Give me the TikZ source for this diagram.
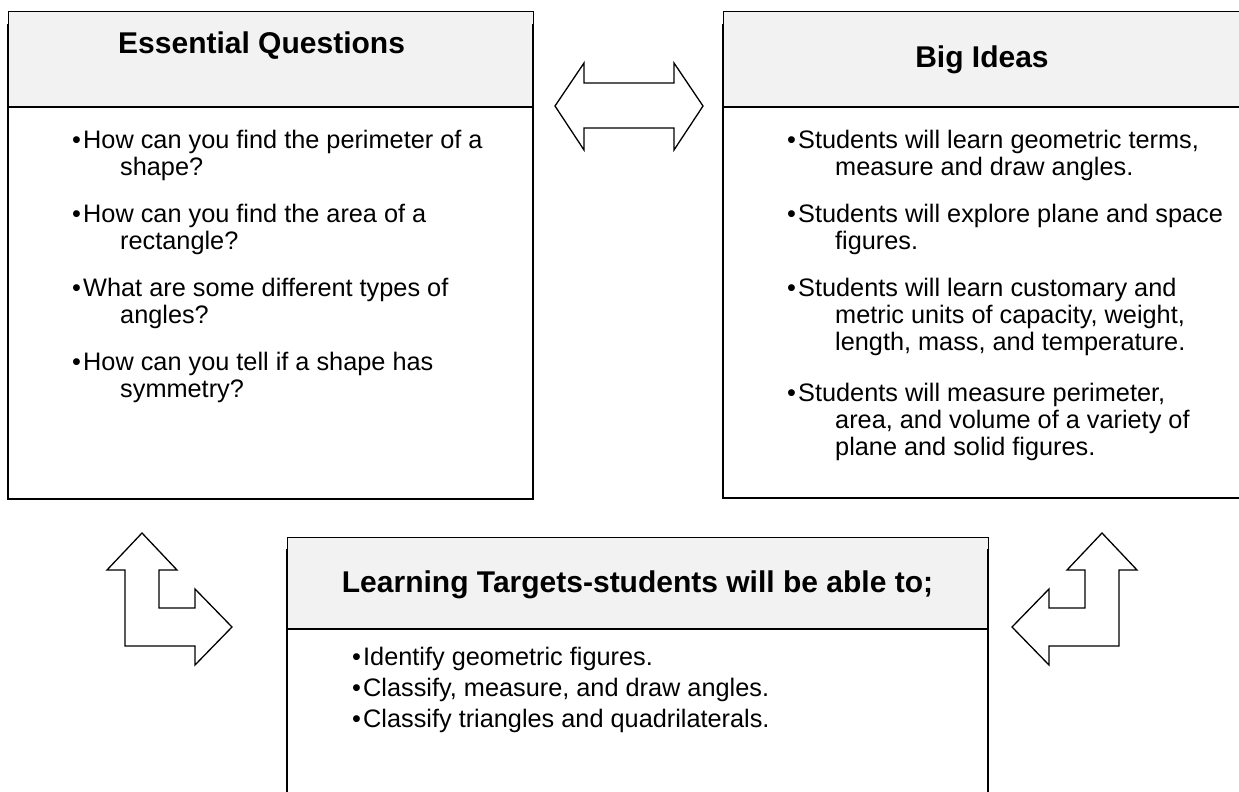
\documentclass[tikz,border=0pt]{standalone}
\usepackage{fontspec}
\setmainfont{Liberation Sans}
\definecolor{hdrgray}{HTML}{F2F2F2}
\newcommand{\bul}{\makebox[11pt][l]{\textbullet}}
\begin{document}
\begin{tikzpicture}[x=1pt,y=-1pt,
  body/.style={anchor=base west, inner sep=0pt, font=\fontsize{25.3}{30}\selectfont},
  ttl/.style={anchor=base, inner sep=0pt, font=\fontsize{30}{34}\selectfont\bfseries},
  thinline/.style={line width=1pt},
  thickline/.style={line width=2.2pt},
  blockarrow/.style={draw=black, line width=1.3pt, fill=white, line join=miter}]
\useasboundingbox (0,0) rectangle (1239,792);
\clip (0,0) rectangle (1239,792);
% ---------- Essential Questions box ----------
\fill[hdrgray] (8,12) rectangle (533,107);
\draw[thinline] (8,24) -- (8,12) -- (533,12) -- (533,24);
\draw[thickline] (8,24) -- (8,499) -- (533,499) -- (533,24);
\draw[thickline] (8,107) -- (533,107);
\node[ttl, anchor=base west] (eqt) at (118,53.5) {Essential Questions};
\node[body] (eq1) at (72,148) {\bul How can you find the perimeter of a};
\node[body] (eq1b) at (120,175) {shape?};
\node[body] (eq2) at (72,222) {\bul How can you find the area of a};
\node[body] (eq2b) at (120,249) {rectangle?};
\node[body] (eq3) at (72,296) {\bul What are some different types of};
\node[body] (eq3b) at (120,323) {angles?};
\node[body] (eq4) at (72,370) {\bul How can you tell if a shape has};
\node[body] (eq4b) at (120,397) {symmetry?};
% ---------- Big Ideas box ----------
\fill[hdrgray] (723,12) rectangle (1250,107);
\draw[thinline] (723,24) -- (723,12) -- (1250,12);
\draw[thickline] (723,24) -- (723,498) -- (1250,498);
\draw[thickline] (723,107) -- (1250,107);
\node[ttl] (bit) at (982,67) {Big Ideas};
\node[body] (bi1) at (787,148) {\bul Students will learn geometric terms,};
\node[body] (bi1b) at (835,175) {measure and draw angles.};
\node[body] (bi2) at (787,222) {\bul Students will explore plane and space};
\node[body] (bi2b) at (835,249) {figures.};
\node[body] (bi3) at (787,296) {\bul Students will learn customary and};
\node[body] (bi3b) at (835,323) {metric units of capacity, weight,};
\node[body] (bi3c) at (835,350) {length, mass, and temperature.};
\node[body] (bi4) at (787,401) {\bul Students will measure perimeter,};
\node[body] (bi4b) at (835,428) {area, and volume of a variety of};
\node[body] (bi4c) at (835,455) {plane and solid figures.};
% ---------- Learning Targets box ----------
\fill[hdrgray] (287,537) rectangle (988,629);
\draw[thinline] (287,549) -- (287,537) -- (988,537) -- (988,549);
\draw[thickline] (287,549) -- (287,800);
\draw[thickline] (988,549) -- (988,800);
\draw[thickline] (287,629) -- (988,629);
\node[ttl] (ltt) at (637.5,592) {Learning Targets-students will be able to;};
\node[body] (lt1) at (352,665) {\bul Identify geometric figures.};
\node[body] (lt2) at (352,696) {\bul Classify, measure, and draw angles.};
\node[body] (lt3) at (352,727) {\bul Classify triangles and quadrilaterals.};
% ---------- block arrows ----------
\draw[blockarrow] (555,106) -- (584,63) -- (584,83) -- (674,83) -- (674,63) -- (703,106)
  -- (674,150) -- (674,128) -- (584,128) -- (584,150) -- cycle;
\draw[blockarrow] (142,533) -- (177,570) -- (159,570) -- (159,608) -- (195,608) -- (195,589)
  -- (232,627) -- (195,665) -- (195,646) -- (125,646) -- (125,570) -- (107,570) -- cycle;
\draw[blockarrow] (1102,533) -- (1067,570) -- (1085,570) -- (1085,608) -- (1049,608) -- (1049,589)
  -- (1012,627) -- (1049,665) -- (1049,646) -- (1119,646) -- (1119,570) -- (1137,570) -- cycle;
\end{tikzpicture}
\end{document}
